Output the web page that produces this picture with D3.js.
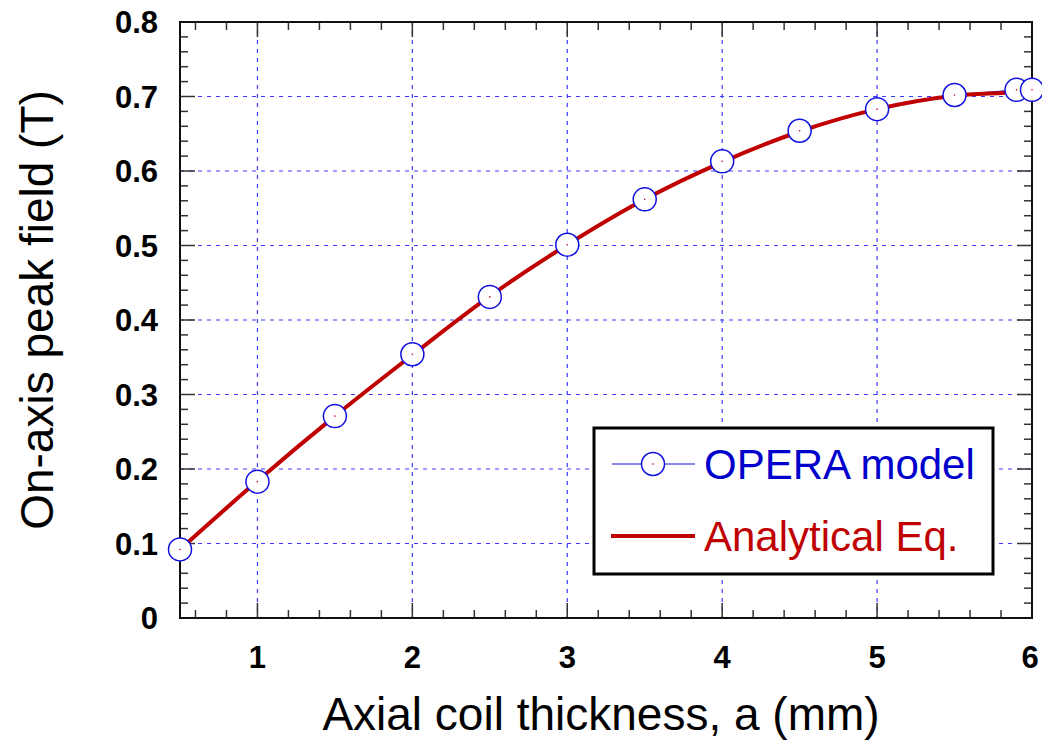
<!DOCTYPE html>
<html>
<head>
<meta charset="utf-8">
<script src="https://cdn.jsdelivr.net/npm/d3@7"></script>
<style>
  body { margin: 0; background: #fff; }
  svg { font-family: "Liberation Sans", Arial, sans-serif; }
</style>
</head>
<body>
<div id="chart"></div>
<script>
// values
var thickness = [0.5, 1, 1.5, 2, 2.5, 3, 3.5, 4, 4.5, 5, 5.5, 5.9, 6];
var operaField = [0.092, 0.183, 0.271, 0.354, 0.431, 0.501, 0.562, 0.613, 0.654, 0.683, 0.702, 0.709, 0.709];
var analyticField = [0.092, 0.184, 0.271, 0.353, 0.432, 0.501, 0.562, 0.612, 0.653, 0.683, 0.701, 0.706, 0.708];
var xTicks = [1, 2, 3, 4, 5, 6];
var yTicks = [0, 0.1, 0.2, 0.3, 0.4, 0.5, 0.6, 0.7, 0.8];
var legendLabels = ["OPERA model", "Analytical Eq."];

var W = 1042, H = 742;
var margin = {top: 22, right: 10, bottom: 124, left: 180};

var xScale = d3.scaleLinear().domain([0.5, 6]).range([margin.left, W - margin.right]);
var yScale = d3.scaleLinear().domain([0, 0.8]).range([H - margin.bottom, margin.top]);

var svg = d3.select('#chart').append('svg')
    .attr('width', W)
    .attr('height', H);

var x0 = xScale.range()[0], x1 = xScale.range()[1];
var y0 = yScale.range()[0], y1 = yScale.range()[1];

// grid
var gridColor = "#3a3aff";
svg.append('g').selectAll('line').data(xTicks.filter(function(d) { return d < 6; }))
    .enter().append('line')
    .attr('x1', xScale).attr('x2', xScale)
    .attr('y1', y1).attr('y2', y0)
    .attr('stroke', gridColor).attr('stroke-width', 1.2)
    .attr('stroke-dasharray', '4,5');
svg.append('g').selectAll('line').data(yTicks.filter(function(d) { return d > 0 && d < 0.8; }))
    .enter().append('line')
    .attr('y1', yScale).attr('y2', yScale)
    .attr('x1', x0).attr('x2', x1)
    .attr('stroke', gridColor).attr('stroke-width', 1.2)
    .attr('stroke-dasharray', '4,5');

// minor/major ticks on all four sides, pointing inward
var xMinor = d3.range(6, 60, 2).map(function(d) { return d / 10; });
var yMinor = d3.range(2, 80, 2).map(function(d) { return d / 100; });
var ticksG = svg.append('g').attr('stroke', '#333').attr('stroke-width', 1.5);
function isMajorX(d) { return Math.abs(d - Math.round(d)) < 1e-6; }
function isMajorY(d) { return Math.abs(d * 10 - Math.round(d * 10)) < 1e-6; }
xMinor.forEach(function(d) {
    var len = isMajorX(d) ? 15 : 8;
    ticksG.append('line').attr('x1', xScale(d)).attr('x2', xScale(d)).attr('y1', y0).attr('y2', y0 - len);
    ticksG.append('line').attr('x1', xScale(d)).attr('x2', xScale(d)).attr('y1', y1).attr('y2', y1 + len);
});
yMinor.forEach(function(d) {
    var len = isMajorY(d) ? 15 : 8;
    ticksG.append('line').attr('y1', yScale(d)).attr('y2', yScale(d)).attr('x1', x0).attr('x2', x0 + len);
    ticksG.append('line').attr('y1', yScale(d)).attr('y2', yScale(d)).attr('x1', x1).attr('x2', x1 - len);
});

// frame
svg.append('rect')
    .attr('x', x0).attr('y', y1)
    .attr('width', x1 - x0).attr('height', y0 - y1)
    .attr('fill', 'none').attr('stroke', '#111').attr('stroke-width', 2);

// tick labels
svg.append('g').selectAll('text').data(yTicks).enter().append('text')
    .attr('x', x0 - 22)
    .attr('y', function(d) { return yScale(d) + 11; })
    .attr('text-anchor', 'end')
    .attr('font-size', 31).attr('font-weight', 'bold')
    .text(function(d) { return d === 0 ? '0' : d3.format('.1f')(d); });
svg.append('g').selectAll('text').data(xTicks).enter().append('text')
    .attr('x', function(d) { return xScale(d) - (d === 6 ? 2 : 0); })
    .attr('y', y0 + 50)
    .attr('text-anchor', 'middle')
    .attr('font-size', 31).attr('font-weight', 'bold')
    .text(function(d) { return d; });

// axis titles
svg.append('text')
    .attr('x', 601).attr('y', 730)
    .attr('text-anchor', 'middle')
    .attr('font-size', 46)
    .text('Axial coil thickness, a (mm)');
svg.append('text')
    .attr('transform', 'translate(53,310) rotate(-90)')
    .attr('text-anchor', 'middle')
    .attr('font-size', 46)
    .text('On-axis peak field (T)');

// series
var opera = thickness.map(function(d, i) { return {x: d, y: operaField[i]}; });
var analytic = thickness.map(function(d, i) { return {x: d, y: analyticField[i]}; });
var line = d3.line()
    .x(function(d) { return xScale(d.x); })
    .y(function(d) { return yScale(d.y); });

svg.append('path')
    .attr('fill', 'none').attr('stroke', '#1010e0').attr('stroke-width', 1)
    .attr('d', line(opera));
svg.append('path')
    .attr('fill', 'none').attr('stroke', '#c00000').attr('stroke-width', 4)
    .attr('d', line.curve(d3.curveMonotoneX)(analytic));

var pts = svg.append('g').selectAll('g').data(opera).enter().append('g')
    .attr('transform', function(d) { return 'translate(' + xScale(d.x) + ',' + yScale(d.y) + ')'; });
pts.append('circle').attr('r', 11.5)
    .attr('fill', '#fff').attr('stroke', '#1010e0').attr('stroke-width', 1.5);
pts.append('circle').attr('r', 0.8).attr('fill', '#c00000');

// legend
var lg = svg.append('g');
lg.append('rect')
    .attr('x', 594).attr('y', 428).attr('width', 399).attr('height', 146)
    .attr('fill', '#fff').attr('stroke', '#000').attr('stroke-width', 3);
lg.append('line').attr('x1', 612).attr('x2', 695).attr('y1', 464).attr('y2', 464)
    .attr('stroke', '#1010e0').attr('stroke-width', 1);
lg.append('circle').attr('cx', 653).attr('cy', 464).attr('r', 11.5)
    .attr('fill', '#fff').attr('stroke', '#1010e0').attr('stroke-width', 1.5);
lg.append('circle').attr('cx', 653).attr('cy', 464).attr('r', 0.8).attr('fill', '#c00000');
lg.append('line').attr('x1', 611).attr('x2', 695).attr('y1', 536).attr('y2', 536)
    .attr('stroke', '#c00000').attr('stroke-width', 4);
lg.append('text').attr('x', 704).attr('y', 479)
    .attr('font-size', 42).attr('fill', '#0000cc')
    .text(legendLabels[0]);
lg.append('text').attr('x', 704).attr('y', 551)
    .attr('font-size', 42).attr('fill', '#c00000')
    .text(legendLabels[1]);
</script>
</body>
</html>
